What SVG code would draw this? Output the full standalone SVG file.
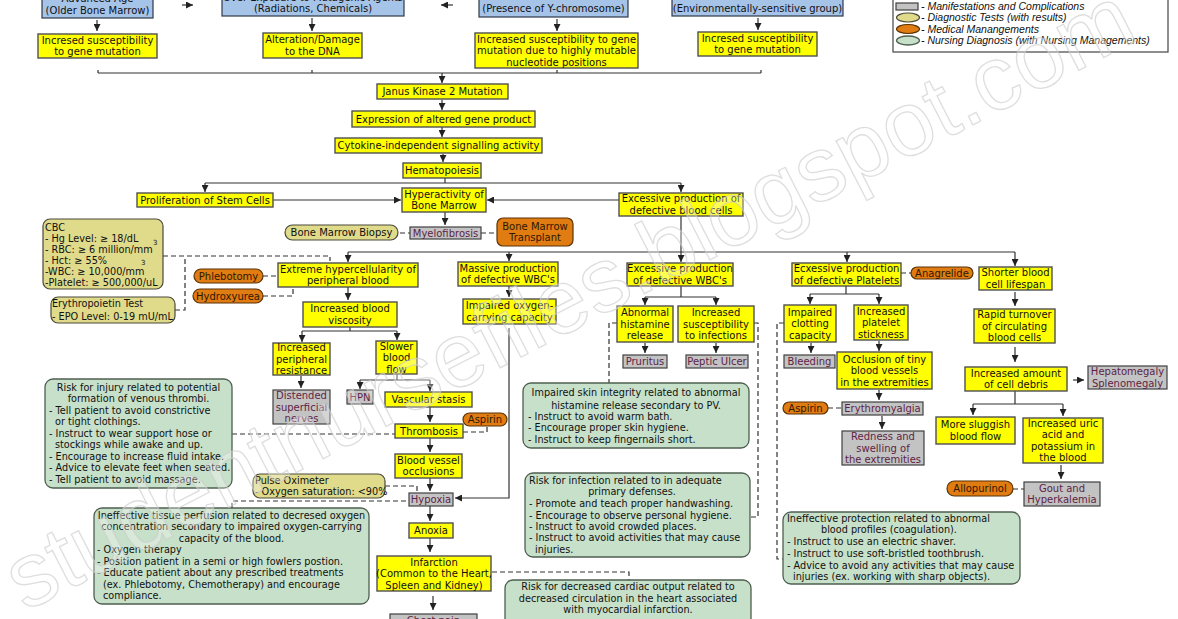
<svg xmlns="http://www.w3.org/2000/svg" width="1178" height="619" viewBox="0 0 1178 619">
<style>
.y{fill:#ffff00;stroke:#505050;stroke-width:1.4}
.g{fill:#c3c3c3;stroke:#404040;stroke-width:1.2}
.o{fill:#e07c12;stroke:#5a3306;stroke-width:1.2}
.k{fill:#dfdb8b;stroke:#4a4a3a;stroke-width:1.2}
.gr{fill:#c7e0c9;stroke:#4f5f50;stroke-width:1.3}
.b{fill:#a6c3e8;stroke:#2f3a4a;stroke-width:1.2}
text{font-family:"DejaVu Sans",Verdana,sans-serif;font-size:10px;fill:#111}
.c{text-anchor:middle}
.m{fill:#5e1f45}
.ot{fill:#2e1800}
.s{font-size:9.7px}
.sup{font-size:7px}
.ln{fill:none;stroke:#333;stroke-width:1.2}
.ds{fill:none;stroke:#333;stroke-width:1.2;stroke-dasharray:5 3}
.lg{font-family:"Liberation Sans",Arial,sans-serif;font-style:italic;font-size:10.5px}
.wm{font-family:"Liberation Sans",Arial,sans-serif;font-size:91px;fill:#ffffff;fill-opacity:0.3;stroke:#cccccc;stroke-width:1.3;stroke-opacity:0.65}
</style>
<defs>
<marker id="ah" viewBox="0 0 10 10" refX="10" refY="5" markerWidth="7" markerHeight="7" markerUnits="userSpaceOnUse" orient="auto"><path d="M0,0 L10,5 L0,10 z" fill="#222"/></marker>
</defs>
<rect width="1178" height="619" fill="#ffffff"/>

<g id="connectors">
<path class="ln" d="M182,5 H193" marker-end="url(#ah)"/>
<path class="ln" d="M453,5 H441" marker-end="url(#ah)"/>
<path class="ln" d="M97,20 V31" marker-end="url(#ah)"/>
<path class="ln" d="M312,18 V31" marker-end="url(#ah)"/>
<path class="ln" d="M557,19 V31" marker-end="url(#ah)"/>
<path class="ln" d="M758,18 V30" marker-end="url(#ah)"/>
<path class="ln" d="M98,73 H761 M98,70 V73 M312,70 V73 M557,70 V73 M761,70 V73"/>
<path class="ln" d="M442,73 V83" marker-end="url(#ah)"/>
<path class="ln" d="M442,100 V110" marker-end="url(#ah)"/>
<path class="ln" d="M442,127 V137" marker-end="url(#ah)"/>
<path class="ln" d="M443,154 V162" marker-end="url(#ah)"/>
<path class="ln" d="M445,178 V183 M205,183 H681"/>
<path class="ln" d="M205,183 V192" marker-end="url(#ah)"/>
<path class="ln" d="M681,183 V192" marker-end="url(#ah)"/>
<path class="ln" d="M273,200 H401" marker-end="url(#ah)"/>
<path class="ln" d="M619,200 H487" marker-end="url(#ah)"/>
<path class="ln" d="M445,212 V225" marker-end="url(#ah)"/>
<path class="ds" d="M400,233 H410 M481,233 H497"/>
<path class="ln" d="M681,216 V262" marker-end="url(#ah)"/>
<path class="ln" d="M348,252 H1015"/>
<path class="ln" d="M348,252 V262" marker-end="url(#ah)"/>
<path class="ln" d="M509,252 V261" marker-end="url(#ah)"/>
<path class="ln" d="M847,252 V262" marker-end="url(#ah)"/>
<path class="ln" d="M1015,252 V266" marker-end="url(#ah)"/>
<path class="ds" d="M163,256 H330 V261 M175,310 H185 V256"/>
<path class="ds" d="M263,276 H278 M263,296 H293 V287"/>
<path class="ln" d="M348,287 V300" marker-end="url(#ah)"/>
<path class="ln" d="M350,327 V331 M302,331 H397"/>
<path class="ln" d="M302,331 V342" marker-end="url(#ah)"/>
<path class="ln" d="M397,331 V340" marker-end="url(#ah)"/>
<path class="ln" d="M301,376 V388" marker-end="url(#ah)"/>
<path class="ln" d="M397,374 V380 M360,380 H430"/>
<path class="ln" d="M360,380 V389" marker-end="url(#ah)"/>
<path class="ln" d="M430,380 V391" marker-end="url(#ah)"/>
<path class="ln" d="M430,407 V422" marker-end="url(#ah)"/>
<path class="ds" d="M463,432 H487 V426 M232,434 H395"/>
<path class="ln" d="M430,438 V452" marker-end="url(#ah)"/>
<path class="ln" d="M430,478 V491" marker-end="url(#ah)"/>
<path class="ds" d="M385,486 H417 V491 M232,508 V501 H409"/>
<path class="ln" d="M509,328 V498 H455" marker-end="url(#ah)"/>
<path class="ln" d="M430,506 V521" marker-end="url(#ah)"/>
<path class="ln" d="M430,538 V552" marker-end="url(#ah)"/>
<path class="ln" d="M433,596 V610" marker-end="url(#ah)"/>
<path class="ds" d="M492,572 H629 V580"/>
<path class="ln" d="M509,286 V297" marker-end="url(#ah)"/>
<path class="ln" d="M681,286 V297 M645,297 H716"/>
<path class="ln" d="M645,297 V305" marker-end="url(#ah)"/>
<path class="ln" d="M716,297 V305" marker-end="url(#ah)"/>
<path class="ln" d="M645,343 V353" marker-end="url(#ah)"/>
<path class="ln" d="M716,343 V353" marker-end="url(#ah)"/>
<path class="ds" d="M617,323 H609 V383 M754,323 H758 V517 H751"/>
<path class="ds" d="M901,273 H911"/>
<path class="ln" d="M846,286 V294 M810,294 H879"/>
<path class="ln" d="M810,294 V304" marker-end="url(#ah)"/>
<path class="ln" d="M879,294 V304" marker-end="url(#ah)"/>
<path class="ln" d="M811,343 V353" marker-end="url(#ah)"/>
<path class="ln" d="M879,341 V351" marker-end="url(#ah)"/>
<path class="ln" d="M879,390 V400" marker-end="url(#ah)"/>
<path class="ds" d="M828,408 H842"/>
<path class="ln" d="M882,416 V429" marker-end="url(#ah)"/>
<path class="ds" d="M784,323 H777 V559 H783"/>
<path class="ln" d="M1015,292 V306" marker-end="url(#ah)"/>
<path class="ln" d="M1015,347 V362" marker-end="url(#ah)"/>
<path class="ln" d="M1073,380 H1084" marker-end="url(#ah)"/>
<path class="ln" d="M1015,391 V404 M973,404 H1063"/>
<path class="ln" d="M973,404 V415" marker-end="url(#ah)"/>
<path class="ln" d="M1063,404 V416" marker-end="url(#ah)"/>
<path class="ln" d="M1061,465 V479" marker-end="url(#ah)"/>
<path class="ds" d="M1013,489 H1024"/>
</g>

<g id="n-age"><rect class="b" x="42" y="-12" width="111" height="30"/><text class="c" x="97.5" y="1.5">Advanced Age</text><text class="c" x="97.5" y="13.5">(Older Bone Marrow)</text></g>
<g id="n-mutagen"><rect class="b" x="222" y="-12" width="182" height="28"/><text class="c" x="313" y="0.5">Over Exposure to Mutagenic Agents</text><text class="c" x="313" y="11.5">(Radiations, Chemicals)</text></g>
<g id="n-ychrom"><rect class="b" x="479" y="-12" width="149" height="29"/><text class="c" x="553.5" y="11.5">(Presence of Y-chromosome)</text></g>
<g id="n-env"><rect class="b" x="672" y="-12" width="171" height="28"/><text class="c" x="757.5" y="11.5">(Environmentally-sensitive group)</text></g>

<g id="n-sus1"><rect class="y" x="38" y="34" width="119" height="24"/><text class="c" x="97.5" y="43.9">Incresed susceptibility</text><text class="c" x="97.5" y="55.4">to gene mutation</text></g>
<g id="n-dna"><rect class="y" x="263" y="33" width="99" height="25"/><text class="c" x="312.5" y="43.4">Alteration/Damage</text><text class="c" x="312.5" y="54.9">to the DNA</text></g>
<g id="n-sus2"><rect class="y" x="475" y="33" width="163" height="35"/><text class="c" x="556.5" y="42.6">Increased susceptibility to gene</text><text class="c" x="556.5" y="54.1">mutation due to highly mutable</text><text class="c" x="556.5" y="65.6">nucleotide positions</text></g>
<g id="n-sus3"><rect class="y" x="698" y="32" width="119" height="24"/><text class="c" x="757.5" y="41.9">Incresed susceptibility</text><text class="c" x="757.5" y="53.4">to gene mutation</text></g>

<g id="n-jak2"><rect class="y" x="377" y="84" width="131" height="15"/><text class="c" x="442.5" y="95.1">Janus Kinase 2 Mutation</text></g>
<g id="n-expr"><rect class="y" x="352" y="111" width="183" height="16"/><text class="c" x="443.5" y="122.6">Expression of altered gene product</text></g>
<g id="n-cyto"><rect class="y" x="335" y="138" width="207" height="15"/><text class="c" x="438.5" y="149.1">Cytokine-independent signalling activity</text></g>
<g id="n-hemato"><rect class="y" x="403" y="163" width="78" height="15"/><text class="c" x="442" y="174.1">Hematopoiesis</text></g>
<g id="n-prolif"><rect class="y" x="137" y="193" width="136" height="14"/><text class="c" x="205" y="203.6">Proliferation of Stem Cells</text></g>
<g id="n-hyper"><rect class="y" x="402" y="188" width="84" height="24"/><text class="c" x="444" y="197.9">Hyperactivity of</text><text class="c" x="444" y="209.4">Bone Marrow</text></g>
<g id="n-excess"><rect class="y" x="619" y="193" width="124" height="23"/><text class="c" x="681" y="202.4">Excessive production of</text><text class="c" x="681" y="213.9">defective blood cells</text></g>
<g id="n-myelo"><rect class="g" x="410" y="227" width="71" height="12"/><text class="c m" x="445.5" y="236.6">Myelofibrosis</text></g>
<g id="n-biopsy"><rect class="k" x="285" y="225" width="113" height="15" rx="7.5"/><text class="c" x="341.5" y="236.1">Bone Marrow Biopsy</text></g>
<g id="n-bmt"><rect class="o" x="497" y="218" width="76" height="28" rx="6"/><text class="c ot" x="535" y="229.9">Bone Marrow</text><text class="c ot" x="535" y="241.4">Transplant</text></g>

<g id="n-cbc"><rect class="k" x="43" y="219" width="120" height="70" rx="7"/>
<text class="s" x="45" y="230.5">CBC</text>
<text class="s" x="45" y="241.5">- Hg Level: ≥ 18/dL</text>
<text class="s" x="45" y="252.5">- RBC:  ≥ 6 million/mm</text>
<text class="sup" x="153" y="245">3</text>
<text class="s" x="45" y="263.5">- Hct:  ≥ 55%</text>
<text class="s" x="45" y="274.5">-WBC: ≥ 10,000/mm</text>
<text class="sup" x="141" y="265">3</text>
<text class="s" x="45" y="285.5">-Platelet:  ≥ 500,000/uL</text></g>
<g id="n-epo"><rect class="k" x="51" y="297" width="124" height="26" rx="7"/><text class="s" x="52" y="306.5">Erythropoietin Test</text><text class="s" x="52" y="319.5">- EPO Level: 0-19 mU/mL</text></g>

<g id="n-extreme"><rect class="y" x="278" y="263" width="140" height="24"/><text class="c" x="348" y="272.9">Extreme hypercellularity of</text><text class="c" x="348" y="284.4">peripheral blood</text></g>
<g id="n-phleb"><rect class="o" x="194" y="269" width="69" height="14" rx="7"/><text class="c ot" x="228.5" y="279.6">Phlebotomy</text></g>
<g id="n-hydroxy"><rect class="o" x="193" y="289" width="70" height="14" rx="7"/><text class="c ot" x="228" y="299.6">Hydroxyurea</text></g>
<g id="n-visc"><rect class="y" x="303" y="302" width="94" height="25"/><text class="c" x="350" y="312.4">Increased blood</text><text class="c" x="350" y="323.9">viscosity</text></g>
<g id="n-periph"><rect class="y" x="273" y="343" width="57" height="32"/><text class="c" x="301.5" y="351.1">Increased</text><text class="c" x="301.5" y="362.6">peripheral</text><text class="c" x="301.5" y="374.1">resistance</text></g>
<g id="n-slower"><rect class="y" x="376" y="341" width="41" height="33"/><text class="c" x="396.5" y="349.6">Slower</text><text class="c" x="396.5" y="361.1">blood</text><text class="c" x="396.5" y="372.6">flow</text></g>
<g id="n-distend"><rect class="g" x="273" y="390" width="57" height="34"/><text class="c m" x="301.5" y="399.1">Distended</text><text class="c m" x="301.5" y="410.6">superficial</text><text class="c m" x="301.5" y="422.1">nerves</text></g>
<g id="n-hpn"><rect class="g" x="347" y="390" width="26" height="14"/><text class="c m" x="360" y="400.6">HPN</text></g>
<g id="n-stasis"><rect class="y" x="385" y="392" width="87" height="15"/><text class="c" x="428.5" y="403.1">Vascular stasis</text></g>
<g id="n-thromb"><rect class="y" x="395" y="424" width="68" height="14"/><text class="c" x="429" y="434.6">Thrombosis</text></g>
<g id="n-aspirin1"><rect class="o" x="463" y="413" width="44" height="13" rx="6.5"/><text class="c ot" x="485" y="423.1">Aspirin</text></g>
<g id="n-occl"><rect class="y" x="395" y="454" width="67" height="24"/><text class="c" x="428.5" y="463.9">Blood vessel</text><text class="c" x="428.5" y="475.4">occlusions</text></g>
<g id="n-hypoxia"><rect class="g" x="409" y="493" width="44" height="13"/><text class="c m" x="431" y="503.1">Hypoxia</text></g>
<g id="n-pulse"><rect class="k" x="253" y="474" width="132" height="24" rx="7"/><text class="s" x="255" y="483.5">Pulse Oximeter</text><text class="s" x="255" y="495">- Oxygen saturation: &lt;90%</text></g>
<g id="n-anoxia"><rect class="y" x="409" y="523" width="44" height="15"/><text class="c" x="431" y="534.1">Anoxia</text></g>
<g id="n-infarct"><rect class="y" x="377" y="556" width="114" height="35"/><text class="c" x="434" y="565.6">Infarction</text><text class="c" x="434" y="577.1">(Common to the Heart,</text><text class="c" x="434" y="588.6">Spleen and Kidney)</text></g>
<g id="n-chest"><rect class="g" x="390" y="614" width="87" height="20"/><text class="c m" x="433.5" y="624">Chest pain</text></g>

<g id="n-massive"><rect class="y" x="458" y="262" width="100" height="24"/><text class="c" x="508" y="271.9">Massive production</text><text class="c" x="508" y="283.4">of defective WBC's</text></g>
<g id="n-impox"><rect class="y" x="463" y="299" width="93" height="25"/><text class="c" x="509.5" y="309.4">Impaired oxygen-</text><text class="c" x="509.5" y="320.9">carrying capacity</text></g>
<g id="n-exwbc"><rect class="y" x="627" y="263" width="106" height="23"/><text class="c" x="680" y="272.4">Excessive production</text><text class="c" x="680" y="283.9">of defective WBC's</text></g>
<g id="n-hist"><rect class="y" x="617" y="306" width="56" height="36"/><text class="c" x="645" y="316.1">Abnormal</text><text class="c" x="645" y="327.6">histamine</text><text class="c" x="645" y="339.1">release</text></g>
<g id="n-infect"><rect class="y" x="678" y="306" width="76" height="36"/><text class="c" x="716" y="316.1">Increased</text><text class="c" x="716" y="327.6">susceptibility</text><text class="c" x="716" y="339.1">to infections</text></g>
<g id="n-prur"><rect class="g" x="623" y="355" width="44" height="13"/><text class="c m" x="645" y="365.1">Pruritus</text></g>
<g id="n-peptic"><rect class="g" x="686" y="355" width="62" height="13"/><text class="c m" x="717" y="365.1">Peptic Ulcer</text></g>

<g id="n-nd-skin"><rect class="gr" x="523" y="383" width="226" height="65" rx="8"/>
<text class="s c" x="636" y="396">Impaired skin integrity related to abnormal</text>
<text class="s c" x="636" y="408.5">histamine release secondary to PV.</text>
<text class="s" x="528" y="419.5">- Instruct to avoid warm bath.</text>
<text class="s" x="528" y="431">- Encourage proper skin hygiene.</text>
<text class="s" x="528" y="442.5">- Instruct to keep fingernails short.</text></g>
<g id="n-nd-infect"><rect class="gr" x="525" y="473" width="225" height="84" rx="8"/>
<text class="s" x="529" y="483.5">Risk for infection related to in adequate</text>
<text class="s c" x="632" y="494.5">primary defenses.</text>
<text class="s" x="529" y="507">- Promote and teach proper handwashing.</text>
<text class="s" x="529" y="518.5">- Encourage to observe personal hygiene.</text>
<text class="s" x="529" y="530">- Instruct to avoid crowded places.</text>
<text class="s" x="529" y="541">- Instruct to avoid activities that may cause</text>
<text class="s" x="535" y="552.5">injuries.</text></g>
<g id="n-nd-cardiac"><rect class="gr" x="505" y="580" width="246" height="60" rx="8"/>
<text class="s c" x="628" y="590">Risk for decreased cardiac output related to</text>
<text class="s c" x="628" y="601.5">decreased circulation in the heart associated</text>
<text class="s c" x="628" y="613">with myocardial infarction.</text></g>

<g id="n-nd-injury"><rect class="gr" x="45" y="379" width="187" height="109" rx="8"/>
<text class="s c" x="138.5" y="390.5">Risk for injury related to potential</text>
<text class="s c" x="138.5" y="402">formation of venous thrombi.</text>
<text class="s" x="49" y="413.5">- Tell patient to avoid constrictive</text>
<text class="s" x="55" y="425">or tight clothings.</text>
<text class="s" x="49" y="436.5">- Instruct to wear support hose or</text>
<text class="s" x="55" y="448">stockings while awake and up.</text>
<text class="s" x="49" y="459.5">- Encourage to increase fluid intake.</text>
<text class="s" x="49" y="471">- Advice to elevate feet when seated.</text>
<text class="s" x="49" y="482.5">- Tell patient to avoid massage.</text></g>
<g id="n-nd-perfusion"><rect class="gr" x="94" y="508" width="275" height="96" rx="8"/>
<text class="s c" x="231.5" y="518.5">Ineffective tissue perfusion related to decresed oxygen</text>
<text class="s c" x="231.5" y="530">concentration secondary to impaired oxygen-carrying</text>
<text class="s c" x="231.5" y="541.5">capacity of the blood.</text>
<text class="s" x="97" y="553">- Oxygen therapy</text>
<text class="s" x="97" y="564.5">- Position patient in a semi or high fowlers postion.</text>
<text class="s" x="97" y="576">- Educate patient about any prescribed treatments</text>
<text class="s" x="103" y="587.5">(ex. Phlebotomy, Chemotherapy) and encourage</text>
<text class="s" x="103" y="599">compliance.</text></g>

<g id="n-plate"><rect class="y" x="792" y="263" width="109" height="23"/><text class="c" x="846.5" y="272.4">Ecxessive production</text><text class="c" x="846.5" y="283.9">of defective Platelets</text></g>
<g id="n-anag"><rect class="o" x="911" y="267" width="62" height="12" rx="6"/><text class="c ot" x="942" y="276.6">Anagrelide</text></g>
<g id="n-clot"><rect class="y" x="784" y="305" width="52" height="37"/><text class="c" x="810" y="315.6">Impaired</text><text class="c" x="810" y="327.1">clotting</text><text class="c" x="810" y="338.6">capacity</text></g>
<g id="n-stick"><rect class="y" x="854" y="305" width="54" height="35"/><text class="c" x="881" y="314.6">Increased</text><text class="c" x="881" y="326.1">platelet</text><text class="c" x="881" y="337.6">stickness</text></g>
<g id="n-bleed"><rect class="g" x="784" y="355" width="51" height="13"/><text class="c m" x="809.5" y="365.1">Bleeding</text></g>
<g id="n-tiny"><rect class="y" x="837" y="352" width="95" height="37"/><text class="c" x="884.5" y="362.6">Occlusion of tiny</text><text class="c" x="884.5" y="374.1">blood vessels</text><text class="c" x="884.5" y="385.6">in the extremities</text></g>
<g id="n-erythro"><rect class="g" x="842" y="402" width="81" height="13"/><text class="c m" x="882.5" y="412.1">Erythromyalgia</text></g>
<g id="n-aspirin2"><rect class="o" x="783" y="402" width="45" height="12" rx="6"/><text class="c ot" x="805.5" y="411.6">Aspirin</text></g>
<g id="n-redness"><rect class="g" x="842" y="431" width="82" height="34"/><text class="c m" x="883" y="440.1">Redness and</text><text class="c m" x="883" y="451.6">swelling of</text><text class="c m" x="883" y="463.1">the extremities</text></g>
<g id="n-nd-protect"><rect class="gr" x="783" y="512" width="237" height="72" rx="8"/>
<text class="s" x="787" y="521.5">Ineffective protection related to abnormal</text>
<text class="s" x="821" y="533">blood profiles (coagulation).</text>
<text class="s" x="787" y="545">- Instruct to use an electric shaver.</text>
<text class="s" x="787" y="557">- Instruct to use soft-bristled toothbrush.</text>
<text class="s" x="787" y="568.5">- Advice to avoid any activities that may cause</text>
<text class="s" x="793" y="580">injuries (ex. working with sharp objects).</text></g>

<g id="n-short"><rect class="y" x="979" y="267" width="73" height="23"/><text class="c" x="1015.5" y="276.4">Shorter blood</text><text class="c" x="1015.5" y="287.9">cell lifespan</text></g>
<g id="n-rapid"><rect class="y" x="974" y="309" width="81" height="34"/><text class="c" x="1014.5" y="318.1">Rapid turnover</text><text class="c" x="1014.5" y="329.6">of circulating</text><text class="c" x="1014.5" y="341.1">blood cells</text></g>
<g id="n-debris"><rect class="y" x="965" y="367" width="102" height="24"/><text class="c" x="1016" y="376.9">Increased amount</text><text class="c" x="1016" y="388.4">of cell debris</text></g>
<g id="n-hepato"><rect class="g" x="1088" y="366" width="79" height="23"/><text class="c m" x="1127.5" y="375.4">Hepatomegaly</text><text class="c m" x="1127.5" y="386.9">Splenomegaly</text></g>
<g id="n-slug"><rect class="y" x="936" y="417" width="79" height="27"/><text class="c" x="975.5" y="428.4">More sluggish</text><text class="c" x="975.5" y="439.9">blood flow</text></g>
<g id="n-uric"><rect class="y" x="1023" y="418" width="80" height="45"/><text class="c" x="1063" y="426.9">Increased uric</text><text class="c" x="1063" y="438.4">acid and</text><text class="c" x="1063" y="449.9">potassium in</text><text class="c" x="1063" y="461.4">the blood</text></g>
<g id="n-gout"><rect class="g" x="1024" y="482" width="76" height="24"/><text class="c m" x="1062" y="491.9">Gout and</text><text class="c m" x="1062" y="503.4">Hyperkalemia</text></g>
<g id="n-allo"><rect class="o" x="947" y="481" width="66" height="15" rx="7.5"/><text class="c ot" x="980" y="492.1">Allopurinol</text></g>

<g id="legend">
<rect x="893" y="-3" width="275" height="55" fill="#fff" stroke="#444" stroke-width="1.2"/>
<rect class="g" x="896" y="3" width="22" height="7"/>
<text class="lg" x="921" y="9.5">- Manifestations and Complications</text>
<ellipse class="k" cx="908" cy="17.5" rx="11.5" ry="4.5"/>
<text class="lg" x="921" y="21">- Diagnostic Tests (with results)</text>
<ellipse class="o" cx="908" cy="29" rx="11.5" ry="4.5"/>
<text class="lg" x="921" y="32.5">- Medical Manangements</text>
<ellipse class="gr" cx="908" cy="40.5" rx="11.5" ry="4.5"/>
<text class="lg" x="921" y="44">- Nursing Diagnosis (with Nursing Managements)</text>
</g>

<g id="watermark"><text class="wm" transform="translate(25,612) rotate(-27.2)">studentnursefiles.blogspot.com</text></g>
</svg>
